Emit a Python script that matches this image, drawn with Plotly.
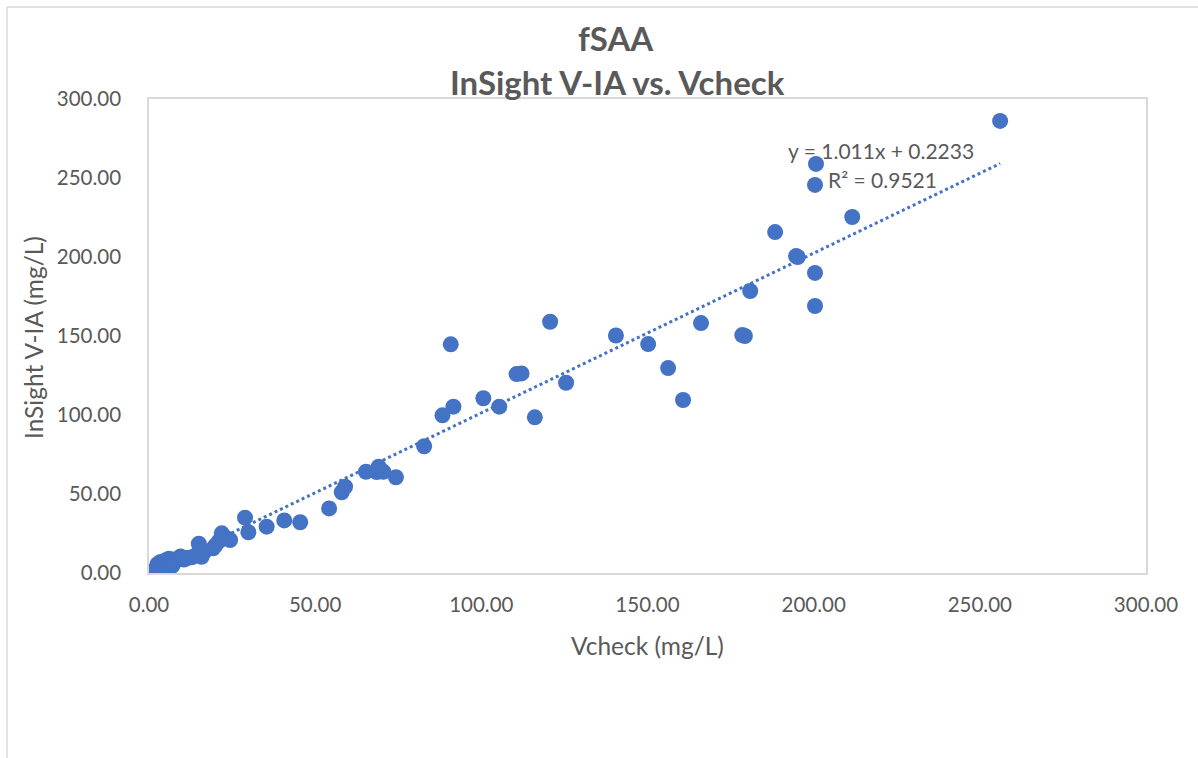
import plotly.graph_objects as go
import numpy as np

vcheck = [2.0, 2.5, 3.0, 3.5, 4.0, 4.5, 5.0, 5.5, 6.0, 6.5, 7.0, 7.5, 8.0, 9.5, 10.5,
          11.5, 13.0, 14.0, 15.0, 15.8, 16.5, 19.3, 20.0, 21.0, 21.9, 23.0, 24.4,
          28.9, 29.9, 35.4, 40.7, 45.5, 54.2, 58.0, 59.0, 65.3, 68.5, 69.1, 70.5, 74.3,
          82.8, 88.3, 90.8, 91.6, 100.6, 105.4, 110.6, 112.1, 116.1, 120.7, 125.5,
          140.5, 150.2, 156.2, 160.7, 166.1, 178.5, 179.3, 180.9, 188.4, 194.7, 195.2,
          200.4, 200.4, 200.4, 200.7, 211.6, 256.1]
insight = [2.5, 5.5, 3.5, 7.0, 4.5, 2.8, 8.0, 5.5, 9.0, 6.5, 4.5, 8.5, 7.5, 10.5, 8.5,
           9.5, 10.0, 11.0, 18.5, 10.3, 13.0, 15.6, 17.5, 20.0, 25.1, 22.5, 20.9,
           35.0, 25.8, 29.3, 33.3, 32.1, 40.9, 51.1, 54.6, 64.1, 63.9, 67.3, 64.1, 60.6,
           80.2, 99.8, 144.7, 105.3, 110.6, 105.3, 125.9, 126.3, 98.5, 159.0, 120.4,
           150.3, 144.9, 129.7, 109.5, 158.2, 150.6, 150.0, 178.5, 215.8, 200.6, 200.0,
           189.9, 169.0, 245.6, 258.9, 225.3, 286.1]

slope = 1.011
intercept = 0.2233
r_squared = 0.9521

x_ticks = [0, 50, 100, 150, 200, 250, 300]
y_ticks = [0, 50, 100, 150, 200, 250, 300]

title_line1 = "fSAA"
title_line2 = "InSight V-IA vs. Vcheck"
x_title = "Vcheck (mg/L)"
y_title = "InSight V-IA (mg/L)"

FONT = "Lato"
TXT = "#595959"
BLUE = "#4472C4"
GRID = "#D9D9D9"

fig = go.Figure()

tx = np.array([min(vcheck), max(vcheck)])
fig.add_trace(go.Scatter(x=tx, y=slope * tx + intercept, mode="lines",
                         line=dict(color=BLUE, width=3, dash="dot"),
                         showlegend=False, hoverinfo="skip"))
fig.add_trace(go.Scatter(x=vcheck, y=insight, mode="markers",
                         marker=dict(color=BLUE, size=16, line=dict(width=0)),
                         showlegend=False))

W, H = 1198, 758
L, R, T, B = 149, 1146, 99, 573
pw, ph = R - L, B - T

def px(xp):
    return (xp - L) / pw

def py(yp):
    return (B - yp) / ph

fig.update_layout(
    width=W, height=H,
    margin=dict(l=L, r=W - R, t=T, b=H - B),
    paper_bgcolor="white", plot_bgcolor="white",
    font=dict(family=FONT, color=TXT, size=20.5),
    xaxis=dict(range=[0, 300], tickvals=x_ticks, tickformat=".2f",
               showgrid=False, zeroline=False, showline=True, mirror=True,
               linecolor=GRID, linewidth=1.5, ticks="outside", ticklen=13,
               tickcolor="rgba(0,0,0,0)", tickfont=dict(size=20.5, color=TXT)),
    yaxis=dict(range=[0, 300], tickvals=y_ticks, tickformat=".2f",
               showgrid=False, zeroline=False, showline=True, mirror=True,
               linecolor=GRID, linewidth=1.5, ticks="outside", ticklen=22,
               tickcolor="rgba(0,0,0,0)", tickfont=dict(size=20.5, color=TXT)),
    shapes=[
        dict(type="line", xref="paper", yref="paper", x0=px(7), x1=px(W + 5),
             y0=py(7), y1=py(7), line=dict(color=GRID, width=1.5)),
        dict(type="line", xref="paper", yref="paper", x0=px(7), x1=px(7),
             y0=py(7), y1=py(H + 5), line=dict(color=GRID, width=1.5)),
    ],
    annotations=[
        dict(text=f"<b>{title_line1}</b>", xref="paper", yref="paper",
             x=px(616), y=py(38), showarrow=False, xanchor="center", yanchor="middle",
             font=dict(size=33, color=TXT, family=FONT)),
        dict(text=f"<b>{title_line2}</b>", xref="paper", yref="paper",
             x=px(617), y=py(82), showarrow=False, xanchor="center", yanchor="middle",
             font=dict(size=33, color=TXT, family=FONT)),
        dict(text=x_title, xref="paper", yref="paper", x=px(647), y=py(645),
             showarrow=False, xanchor="center", yanchor="middle",
             font=dict(size=24.5, color=TXT, family=FONT)),
        dict(text=y_title, xref="paper", yref="paper", x=px(33), y=py(338),
             showarrow=False, xanchor="center", yanchor="middle", textangle=-90,
             font=dict(size=24.5, color=TXT, family=FONT)),
        dict(text=f"y = {slope}x + {intercept}", xref="paper", yref="paper",
             x=px(881), y=py(150), showarrow=False, xanchor="center", yanchor="middle",
             font=dict(size=21, color=TXT, family=FONT)),
        dict(text=f"R² = {r_squared}", xref="paper", yref="paper",
             x=px(882), y=py(179), showarrow=False, xanchor="center", yanchor="middle",
             font=dict(size=21, color=TXT, family=FONT)),
    ],
)

fig.write_html("out.html", config={"displayModeBar": False},
               post_script="document.body.style.margin='0';document.body.style.overflow='hidden';")
